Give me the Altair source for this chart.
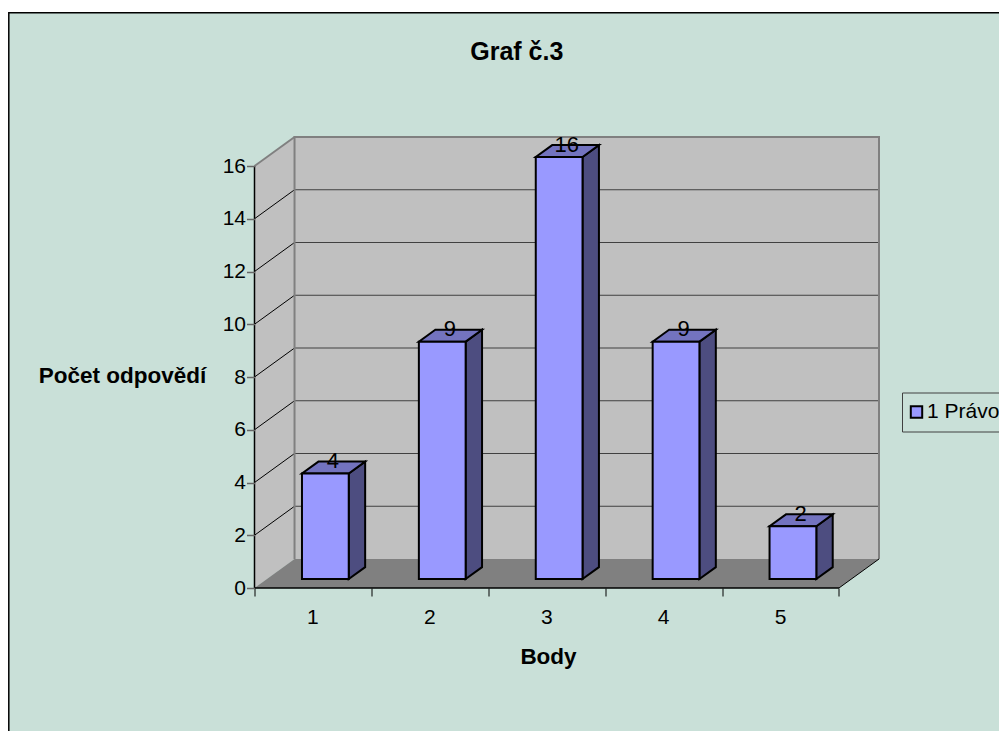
import altair as alt
import pandas as pd

categories = ["1", "2", "3", "4", "5"]
values = [4, 9, 16, 9, 2]
series_name = "1 Právo"
y_ticks = [0, 2, 4, 6, 8, 10, 12, 14, 16]
x_ticks = [0, 1, 2, 3, 4, 5]

FONT = "Liberation Sans"
BG = "#C9E0D8"
WALL = "#C0C0C0"
FLOOR = "#808080"
FRONT = "#9999FF"
SIDE = "#4D4D80"
TOP = "#7373BF"

# oblique projection: depth 1 moves a point right and up, in data units
DX = 40 / 116.8
DY = 29 / 26.375
N = len(categories)
YMAX = max(y_ticks)
BAR_W = 0.4
D0, D1 = 0.31, 0.72

xs = alt.Scale(domain=[0, N + DX], nice=False, zero=False)
ys = alt.Scale(domain=[0, YMAX + DY], nice=False, zero=False)

x_axis = alt.Axis(
    values=x_ticks, labels=False, domain=False, grid=False, tickColor="black",
    tickSize=8, tickWidth=1, zindex=2, title="Body", titleFont=FONT, titleFontSize=22.5,
    titleFontWeight="bold", titleColor="black", titleX=293.5, titleY=68,
    titleAlign="center", titleBaseline="middle")
y_axis = alt.Axis(
    values=y_ticks, domain=False, grid=False, tickColor="#666666", tickSize=8,
    tickWidth=1.5, labelFont=FONT, labelFontSize=21, labelColor="black", labelPadding=1,
    zindex=2, title="Počet odpovědí", titleFont=FONT, titleFontSize=22.5,
    titleFontWeight="bold", titleColor="black", titleAngle=0, titleX=-132.5,
    titleY=238, titleAlign="center", titleBaseline="middle")

X = lambda f: alt.X(f, type="quantitative", scale=xs, axis=x_axis)
Y = lambda f: alt.Y(f, type="quantitative", scale=ys, axis=y_axis)


def D(rows):
    return alt.Data(values=rows)


def quad_v(rows, fill, stroke=None, sw=0):
    """parallelogram with vertical edges"""
    kw = dict(fill=fill, strokeWidth=sw, opacity=1)
    if stroke:
        kw["stroke"] = stroke
    return alt.Chart(D(rows)).mark_area(orient="vertical", **kw).encode(
        x=X("x"), y=Y("y"), y2=alt.Y2("y2"), detail="k:N")


def quad_h(rows, fill, stroke=None, sw=0):
    """parallelogram with horizontal edges"""
    kw = dict(fill=fill, strokeWidth=sw, opacity=1)
    if stroke:
        kw["stroke"] = stroke
    return alt.Chart(D(rows)).mark_area(orient="horizontal", **kw).encode(
        y=Y("y"), x=X("x"), x2=alt.X2("x2"), detail="k:N")


def lines(rows, color, sw):
    return alt.Chart(D(rows)).mark_line(color=color, strokeWidth=sw).encode(
        x=X("x"), y=Y("y"), detail="k:N")


# panel background (chart chrome, in pixels relative to the plot area)
panel = alt.Chart(D([{}])).mark_rect(fill=BG, stroke="black", strokeWidth=1.5).encode(
    x=alt.value(-245.7), x2=alt.value(800), y=alt.value(-124.2), y2=alt.value(640))

title = alt.Chart(D([{"t": "Graf č.3"}])).mark_text(
    font=FONT, fontSize=25, fontWeight="bold", color="black", baseline="middle").encode(
    x=alt.value(262.25), y=alt.value(-85), text="t:N")

# walls and floor
back = alt.Chart(D([{"x": DX, "x2": N + DX, "y": DY, "y2": YMAX + DY}])).mark_rect(fill=WALL).encode(
    x=X("x"), x2=alt.X2("x2"), y=Y("y"), y2=alt.Y2("y2"))
side = quad_v([{"k": "w", "x": 0, "y": 0, "y2": YMAX},
               {"k": "w", "x": DX, "y": DY, "y2": YMAX + DY}], WALL)
floor = quad_h([{"k": "f", "y": 0, "x": 0, "x2": N},
                {"k": "f", "y": DY, "x": DX, "x2": N + DX}], FLOOR)

# gridlines
grid_back = lines(
    [{"k": t, "x": DX, "y": t + DY} for t in y_ticks[1:-1]]
    + [{"k": t, "x": N + DX, "y": t + DY} for t in y_ticks[1:-1]],
    "#404040", 1.2)
grid_side = lines(
    [{"k": t, "x": 0, "y": t} for t in y_ticks[1:-1]]
    + [{"k": t, "x": DX, "y": t + DY} for t in y_ticks[1:-1]],
    "black", 1)
edges = lines(
    [{"k": "l", "x": DX, "y": DY}, {"k": "l", "x": DX, "y": YMAX + DY},
     {"k": "l", "x": N + DX, "y": YMAX + DY}, {"k": "l", "x": N + DX, "y": DY},
     ] + [{"k": "t", "x": 0, "y": YMAX}, {"k": "t", "x": DX, "y": YMAX + DY}],
    "#808080", 2)
floor_edge = lines([{"k": "r", "x": N, "y": 0}, {"k": "r", "x": N + DX, "y": DY}], "black", 1)
axis_lines = lines(
    [{"k": "a", "x": 0, "y": YMAX}, {"k": "a", "x": 0, "y": 0}, {"k": "a", "x": N, "y": 0}],
    "black", 1.5)

x_labels = alt.Chart(D([{"x": i + 0.5, "y": 0, "t": c} for i, c in enumerate(categories)])).mark_text(
    font=FONT, fontSize=21, color="black", baseline="alphabetic", dy=36).encode(
    x=X("x"), y=Y("y"), text="t:N")

# bars
front_rows, side_rows, top_rows, label_rows = [], [], [], []
for i, (c, v) in enumerate(zip(categories, values)):
    left = i + 0.5 - BAR_W / 2
    right = i + 0.5 + BAR_W / 2
    front_rows.append({"s": series_name, "x": left + D0 * DX, "x2": right + D0 * DX,
                       "y": D0 * DY, "y2": v + D0 * DY})
    side_rows += [{"k": c, "x": right + D0 * DX, "y": D0 * DY, "y2": v + D0 * DY},
                  {"k": c, "x": right + D1 * DX, "y": D1 * DY, "y2": v + D1 * DY}]
    top_rows += [{"k": c, "y": v + D0 * DY, "x": left + D0 * DX, "x2": right + D0 * DX},
                 {"k": c, "y": v + D1 * DY, "x": left + D1 * DX, "x2": right + D1 * DX}]
    label_rows.append({"x": i + 0.5 + 0.5 * DX, "y": v + 0.5 * DY, "t": str(v)})

bar_side = quad_v(side_rows, SIDE, "black", 2)
bar_top = quad_h(top_rows, TOP, "black", 2)
bar_front = alt.Chart(D(front_rows)).mark_rect(stroke="black", strokeWidth=2, opacity=1).encode(
    x=X("x"), x2=alt.X2("x2"), y=Y("y"), y2=alt.Y2("y2"),
    color=alt.Color("s:N", scale=alt.Scale(domain=[series_name], range=[FRONT]),
                    legend=alt.Legend(
                        title=None, orient="none", legendX=647.5, legendY=255.5,
                        strokeColor="#404040", padding=9, symbolType="square",
                        symbolSize=130, symbolStrokeColor="black", symbolStrokeWidth=2,
                        symbolOpacity=1, symbolOffset=-5, labelFont=FONT, labelFontSize=21,
                        labelColor="black", labelOffset=0)))
bar_labels = alt.Chart(D(label_rows)).mark_text(
    font=FONT, fontSize=22, color="black", baseline="alphabetic").encode(
    x=X("x"), y=Y("y"), text="t:N")

chart = alt.layer(
    panel, title, back, side, floor, grid_back, grid_side, edges, floor_edge, axis_lines,
    x_labels, bar_side, bar_top, bar_front, bar_labels,
).properties(
    width=624.5, height=451,
    padding={"left": 246.5, "top": 129, "right": 120, "bottom": 143},
    autosize=alt.AutoSizeParams(type="none"),
    background="white",
).configure_view(stroke=None)

chart.save("out.html", embed_options={"renderer": "svg", "actions": False})
